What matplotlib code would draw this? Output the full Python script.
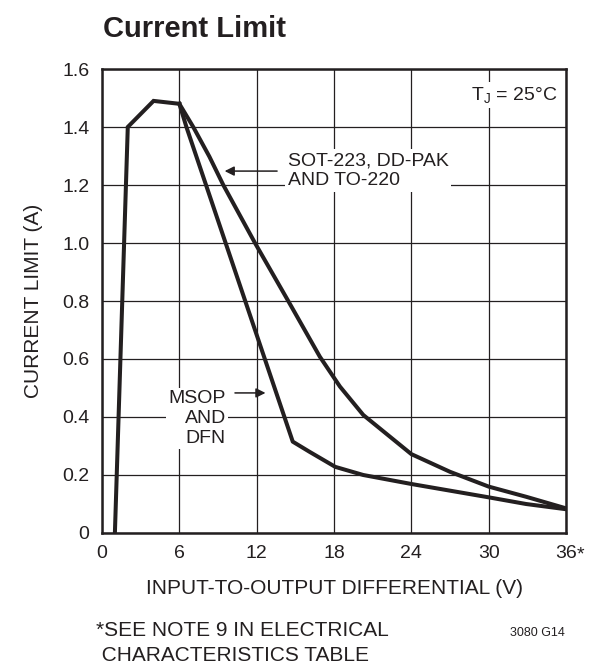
import matplotlib
matplotlib.use("Agg")
import matplotlib.pyplot as plt

plt.rcParams['font.family'] = ['Liberation Sans Narrow', 'Liberation Sans', 'DejaVu Sans']
plt.rcParams['mathtext.default'] = 'regular'

# common rising edge (same for both packages)
rise_v = [1.0, 2.0, 4.0, 6.0]
rise_i = [0.0, 1.40, 1.49, 1.48]

# SOT-223, DD-PAK and TO-220
sot_v = [6.0, 7.08, 8.33, 9.41, 11.87, 14.45, 16.9, 18.46, 20.27, 24.0, 27.0, 30.0, 32.9, 36.0]
sot_i = [1.48, 1.40, 1.298, 1.20, 1.00, 0.80, 0.608, 0.505, 0.407, 0.272, 0.211, 0.16, 0.125, 0.085]

# MSOP and DFN
msop_v = [6.0, 6.55, 14.8, 16.1, 18.1, 20.27, 24.0, 30.0, 32.9, 36.0]
msop_i = [1.48, 1.40, 0.315, 0.28, 0.228, 0.20, 0.169, 0.123, 0.10, 0.082]

xticks = [0, 6, 12, 18, 24, 30, 36]
yticks = [0, 0.2, 0.4, 0.6, 0.8, 1.0, 1.2, 1.4, 1.6]
ylabels = ['0', '0.2', '0.4', '0.6', '0.8', '1.0', '1.2', '1.4', '1.6']

fig = plt.figure(figsize=(5.92, 6.68), dpi=100)
ax = fig.add_axes([0.1723, 0.2021, 0.7838, 0.6946])

ink = '#231f20'
lw = 2.9
ax.plot(rise_v, rise_i, color=ink, lw=lw, solid_joinstyle='miter', zorder=4)
ax.plot(sot_v, sot_i, color=ink, lw=lw, solid_joinstyle='round', zorder=4)
ax.plot(msop_v, msop_i, color=ink, lw=lw, solid_joinstyle='round', zorder=4)

ax.set_xlim(0, 36)
ax.set_ylim(0, 1.6)
ax.set_xticks(xticks)
ax.set_yticks(yticks)
ax.set_yticklabels(ylabels)
ax.grid(True, color=ink, lw=0.9)
ax.set_axisbelow(True)
ax.tick_params(length=0, labelsize=14, pad=9, colors=ink)
for s in ax.spines.values():
    s.set_linewidth(1.8)
    s.set_color(ink)

ax.set_xlabel('INPUT-TO-OUTPUT DIFFERENTIAL (V)', fontsize=15, labelpad=12, color=ink)
ax.set_ylabel('CURRENT LIMIT (A)', fontsize=15, labelpad=14, color=ink)
ax.text(36.85, -0.075, '*', fontsize=14, ha='left', va='center', color=ink)

box = dict(facecolor='white', edgecolor='none', pad=2)
ax.text(35.3, 1.51, 'T$_J$ = 25°C', fontsize=14, ha='right', va='center', color=ink, bbox=box, zorder=3)
ax.text(14.4, 1.25, 'SOT-223, DD-PAK\nAND TO-220', fontsize=14, ha='left', va='center',
        linespacing=1.2, color=ink, bbox=box, zorder=3)
ax.annotate('', xy=(9.3, 1.248), xytext=(13.8, 1.248),
            arrowprops=dict(arrowstyle='-|>', color=ink, lw=1.1, mutation_scale=14), zorder=5)
ax.text(9.6, 0.395, 'MSOP\nAND\nDFN', fontsize=14, ha='right', va='center',
        linespacing=1.2, color=ink, bbox=box, zorder=3)
ax.annotate('', xy=(12.9, 0.483), xytext=(10.1, 0.483),
            arrowprops=dict(arrowstyle='-|>', color=ink, lw=1.1, mutation_scale=14), zorder=5)

fig.text(0.174, 0.957, 'Current Limit', fontsize=21, fontweight='bold', ha='left', va='center', color=ink)
fig.text(0.163, 0.037, '*SEE NOTE 9 IN ELECTRICAL\n CHARACTERISTICS TABLE', fontsize=15, ha='left', va='center',
         linespacing=1.4, color=ink)
fig.text(0.862, 0.052, '3080 G14', fontsize=9, ha='left', va='center', color=ink)

fig.savefig('out.png', dpi=100)
